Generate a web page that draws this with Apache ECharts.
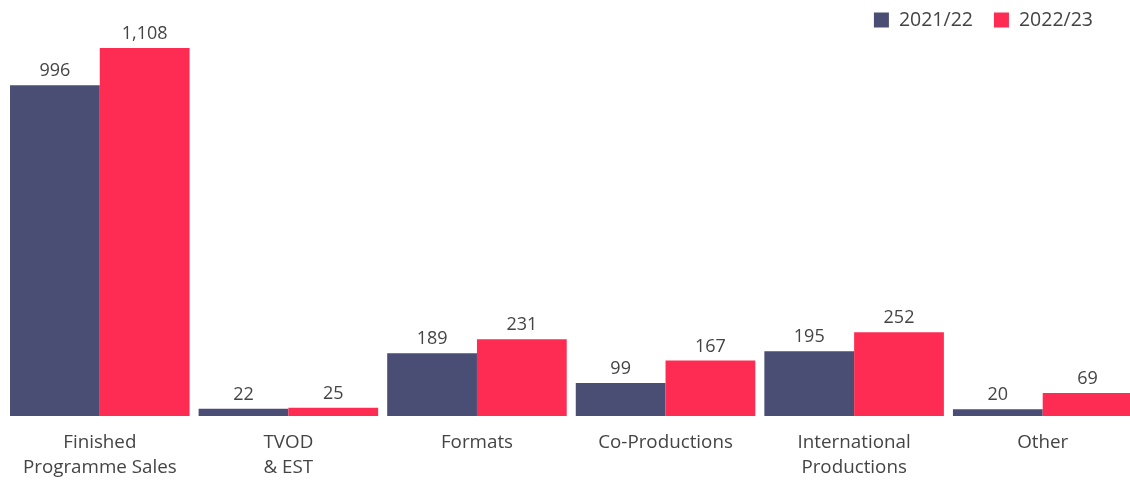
<!DOCTYPE html>
<html><head><meta charset="utf-8">
<script src="https://cdn.jsdelivr.net/npm/echarts@6/dist/echarts.min.js"></script>
<style>html,body{margin:0;padding:0;background:#fff;overflow:hidden}#c{width:1140px;height:482px}</style>
</head><body><div id="c"></div>
<script>
const categories = ['Finished\nProgramme Sales', 'TVOD\n& EST', 'Formats', 'Co-Productions', 'International\nProductions', 'Other'];
const series2122 = [996, 22, 189, 99, 195, 20];
const series2223 = [1108, 25, 231, 167, 252, 69];
const seriesNames = ['2021/22', '2022/23'];
const font = '"Open Sans", Lato, sans-serif';
const chart = echarts.init(document.getElementById('c'), null, {renderer: 'canvas'});
const lbl = {show: true, position: 'top', distance: 5, color: '#444', fontSize: 18, fontFamily: font,
  formatter: p => p.value.toLocaleString('en-US')};
chart.setOption({
  animation: false,
  legend: {top: 5, right: 42, itemWidth: 15, itemHeight: 15, itemGap: 21, icon: 'rect',
    textStyle: {fontSize: 19.5, color: '#444', fontFamily: font, padding: [0, 0, 0, 5]}, data: seriesNames},
  grid: {left: 5.5, right: 3, top: 17.5, bottom: 66, containLabel: false},
  xAxis: {type: 'category', data: categories, axisLine: {show: false}, axisTick: {show: false},
    axisLabel: {interval: 0, margin: 14, fontSize: 18.8, lineHeight: 25, color: '#444', fontFamily: font}},
  yAxis: {type: 'value', min: 0, max: 1200, show: false, splitLine: {show: false}},
  series: [
    {name: seriesNames[0], type: 'bar', data: series2122, itemStyle: {color: '#4a4d74'}, barGap: '0%', barCategoryGap: '4.8%', label: lbl},
    {name: seriesNames[1], type: 'bar', data: series2223, itemStyle: {color: '#fe2c52'}, barGap: '0%', barCategoryGap: '4.8%', label: lbl}
  ]
});
</script></body></html>
